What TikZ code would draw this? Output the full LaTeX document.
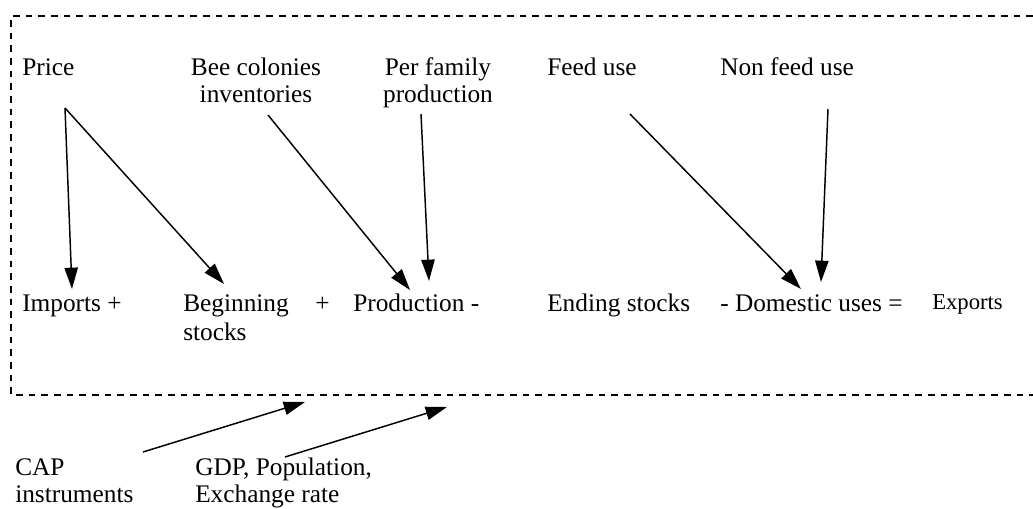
\documentclass[tikz,border=0pt]{standalone}
\usepackage{fontspec}
\setmainfont{Liberation Serif}
\usetikzlibrary{arrows.meta}
\begin{document}
\begin{tikzpicture}[x=0.75pt,y=-0.75pt,
  lbl/.style={inner sep=0pt, anchor=base west, font=\fontsize{19}{21}\selectfont},
  lblc/.style={inner sep=0pt, anchor=base, align=center, font=\fontsize{19}{20.25}\selectfont},
  lbll/.style={inner sep=0pt, anchor=base west, align=left, font=\fontsize{19}{21.75}\selectfont},
  lblb/.style={inner sep=0pt, anchor=base west, align=left, font=\fontsize{19}{20.25}\selectfont},
  arr/.style={line width=1.1pt, -{Triangle[length=16pt,width=10pt]}},
  frame/.style={line width=0.8pt, dash pattern=on 5pt off 4.5pt}]
\useasboundingbox (0,0) rectangle (1033,509);
% frame
\draw[frame] (1033,16) -- (11,16) -- (11,395) -- (1033,395);
% top row
\node[lbl] (price) at (22,76) {Price};
\node[lblc] (bee) at (256,103) {Bee colonies\\inventories};
\node[lblc] (perfam) at (438,103) {Per family\\production};
\node[lbl] (feed) at (547,76) {Feed use};
\node[lbl] (nonfeed) at (720,76) {Non feed use};
% equation row
\node[lbl] (imports) at (22,312) {Imports +};
\node[lbll] (begin) at (183,341) {Beginning\\stocks};
\node[lbl] (plus) at (315,312) {+};
\node[lbl] (prod) at (353,312) {Production -};
\node[lbl] (ending) at (547,312) {Ending stocks};
\node[lbl] (dom) at (720,312) {- Domestic uses =};
\node[inner sep=0pt, anchor=base west, font=\fontsize{17}{19}\selectfont] (exp) at (932,310) {Exports};
% bottom
\node[lblb] (cap) at (15,503) {CAP\\instruments};
\node[lblb] (gdp) at (195,503) {GDP, Population,\\Exchange rate};
% connector end points
\coordinate (price-o) at (65,108);
\coordinate (imports-i) at (72,289);
\coordinate (begin-i) at (224,284);
\coordinate (bee-o) at (268,115);
\coordinate (prod-i1) at (410,290);
\coordinate (perfam-o) at (421,114);
\coordinate (prod-i2) at (429,281);
\coordinate (feed-o) at (630,114);
\coordinate (dom-i1) at (801,289);
\coordinate (nonfeed-o) at (828,109);
\coordinate (dom-i2) at (821,282);
\coordinate (cap-o) at (143,452);
\coordinate (frame-i1) at (305,402);
\coordinate (gdp-o) at (285,457);
\coordinate (frame-i2) at (447,407);
% connectors
\draw[arr] (price-o) -- (imports-i);
\draw[arr] (price-o) -- (begin-i);
\draw[arr] (bee-o) -- (prod-i1);
\draw[arr] (perfam-o) -- (prod-i2);
\draw[arr] (feed-o) -- (dom-i1);
\draw[arr] (nonfeed-o) -- (dom-i2);
\draw[arr] (cap-o) -- (frame-i1);
\draw[arr] (gdp-o) -- (frame-i2);
\end{tikzpicture}
\end{document}
